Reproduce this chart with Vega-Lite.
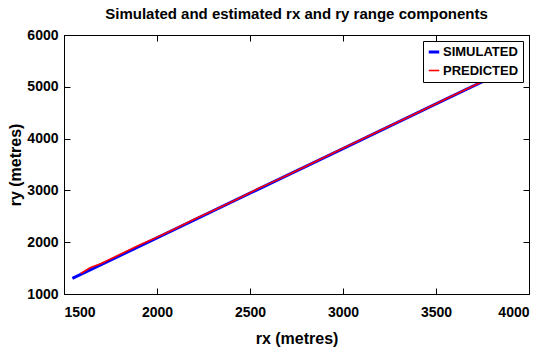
{
  "$schema": "https://vega.github.io/schema/vega-lite/v6.json",
  "autosize": "none",
  "width": 465,
  "height": 259,
  "padding": {"left": 64, "top": 35, "right": 13, "bottom": 57},
  "background": "white",
  "config": {
    "font": "Liberation Sans, sans-serif",
    "view": {"stroke": "black", "strokeWidth": 1},
    "axis": {
      "grid": false,
      "domainColor": "black",
      "tickColor": "black",
      "labelColor": "black",
      "titleColor": "black",
      "labelFont": "Liberation Sans, sans-serif",
      "titleFont": "Liberation Sans, sans-serif",
      "labelFontWeight": "bold",
      "titleFontWeight": "bold",
      "labelFontSize": 14,
      "titleFontSize": 16
    }
  },
  "title": {
    "text": "Simulated and estimated rx and ry range components",
    "font": "Liberation Sans, sans-serif",
    "fontSize": 15,
    "fontWeight": "bold",
    "color": "black",
    "anchor": "middle",
    "offset": 6
  },
  "data": {
    "values": [
      {"rx": 1545, "ry": 1300, "series": "SIMULATED"},
      {"rx": 2000, "ry": 2084, "series": "SIMULATED"},
      {"rx": 2500, "ry": 2946, "series": "SIMULATED"},
      {"rx": 3000, "ry": 3808, "series": "SIMULATED"},
      {"rx": 3500, "ry": 4670, "series": "SIMULATED"},
      {"rx": 3750, "ry": 5101, "series": "SIMULATED"},
      {"rx": 1590, "ry": 1395, "series": "PREDICTED"},
      {"rx": 1640, "ry": 1505, "series": "PREDICTED"},
      {"rx": 1700, "ry": 1590, "series": "PREDICTED"},
      {"rx": 1800, "ry": 1762, "series": "PREDICTED"},
      {"rx": 1900, "ry": 1935, "series": "PREDICTED"},
      {"rx": 2000, "ry": 2095, "series": "PREDICTED"},
      {"rx": 2100, "ry": 2265, "series": "PREDICTED"},
      {"rx": 2200, "ry": 2442, "series": "PREDICTED"},
      {"rx": 2300, "ry": 2606, "series": "PREDICTED"},
      {"rx": 2400, "ry": 2777, "series": "PREDICTED"},
      {"rx": 2500, "ry": 2955, "series": "PREDICTED"},
      {"rx": 2550, "ry": 3046, "series": "PREDICTED"},
      {"rx": 2600, "ry": 3126, "series": "PREDICTED"},
      {"rx": 2700, "ry": 3292, "series": "PREDICTED"},
      {"rx": 2800, "ry": 3466, "series": "PREDICTED"},
      {"rx": 3000, "ry": 3812, "series": "PREDICTED"},
      {"rx": 3200, "ry": 4156, "series": "PREDICTED"},
      {"rx": 3400, "ry": 4500, "series": "PREDICTED"},
      {"rx": 3600, "ry": 4845, "series": "PREDICTED"},
      {"rx": 3750, "ry": 5101, "series": "PREDICTED"}
    ]
  },
  "resolve": {"axis": {"x": "independent", "y": "independent"}},
  "layer": [
    {
      "mark": {"type": "line"},
      "encoding": {
        "x": {"field": "rx", "type": "quantitative", "title": "rx (metres)",
              "scale": {"domain": [1500, 4000], "nice": false, "zero": false},
              "axis": {"orient": "bottom", "format": "d", "values": [1500, 2000, 2500, 3000, 3500, 4000],
                       "ticks": true, "tickSize": -6, "tickWidth": 1, "tickColor": "black", "domain": true, "labelPadding": 17, "titlePadding": 11}},
        "y": {"field": "ry", "type": "quantitative", "title": "ry (metres)",
              "scale": {"domain": [1000, 6000], "nice": false, "zero": false},
              "axis": {"orient": "left", "format": "d", "values": [1000, 2000, 3000, 4000, 5000, 6000],
                       "ticks": true, "tickSize": -6, "tickWidth": 1, "tickColor": "black", "domain": true, "labelPadding": 12, "titlePadding": 3}},
        "color": {"field": "series", "type": "nominal", "sort": ["SIMULATED", "PREDICTED"],
                  "scale": {"domain": ["SIMULATED", "PREDICTED"], "range": ["#0000ff", "#ff0000"]},
                  "legend": {"title": null, "orient": "top-right", "offset": 6, "symbolType": "stroke", "symbolSize": 110,
                             "strokeColor": "black", "fillColor": "white", "padding": 4, "labelFontSize": 13, "labelFontWeight": "bold",
                             "labelColor": "black", "labelFont": "Liberation Sans, sans-serif", "rowPadding": 5, "labelOffset": 2}},
        "strokeWidth": {"field": "series", "type": "nominal", "sort": ["SIMULATED", "PREDICTED"],
                        "scale": {"domain": ["SIMULATED", "PREDICTED"], "range": [3, 1.6]}, "legend": null}
      }
    },
    {
      "mark": {"type": "line", "opacity": 0},
      "encoding": {
        "x": {"field": "rx", "type": "quantitative",
              "axis": {"orient": "top", "labels": false, "title": null, "values": [1500, 2000, 2500, 3000, 3500, 4000],
                       "ticks": true, "tickSize": -6, "tickWidth": 1, "tickColor": "black", "domain": true}},
        "y": {"field": "ry", "type": "quantitative",
              "axis": {"orient": "right", "labels": false, "title": null, "values": [1000, 2000, 3000, 4000, 5000, 6000],
                       "ticks": true, "tickSize": -6, "tickWidth": 1, "tickColor": "black", "domain": true}},
        "detail": {"field": "series"}
      }
    }
  ]
}
